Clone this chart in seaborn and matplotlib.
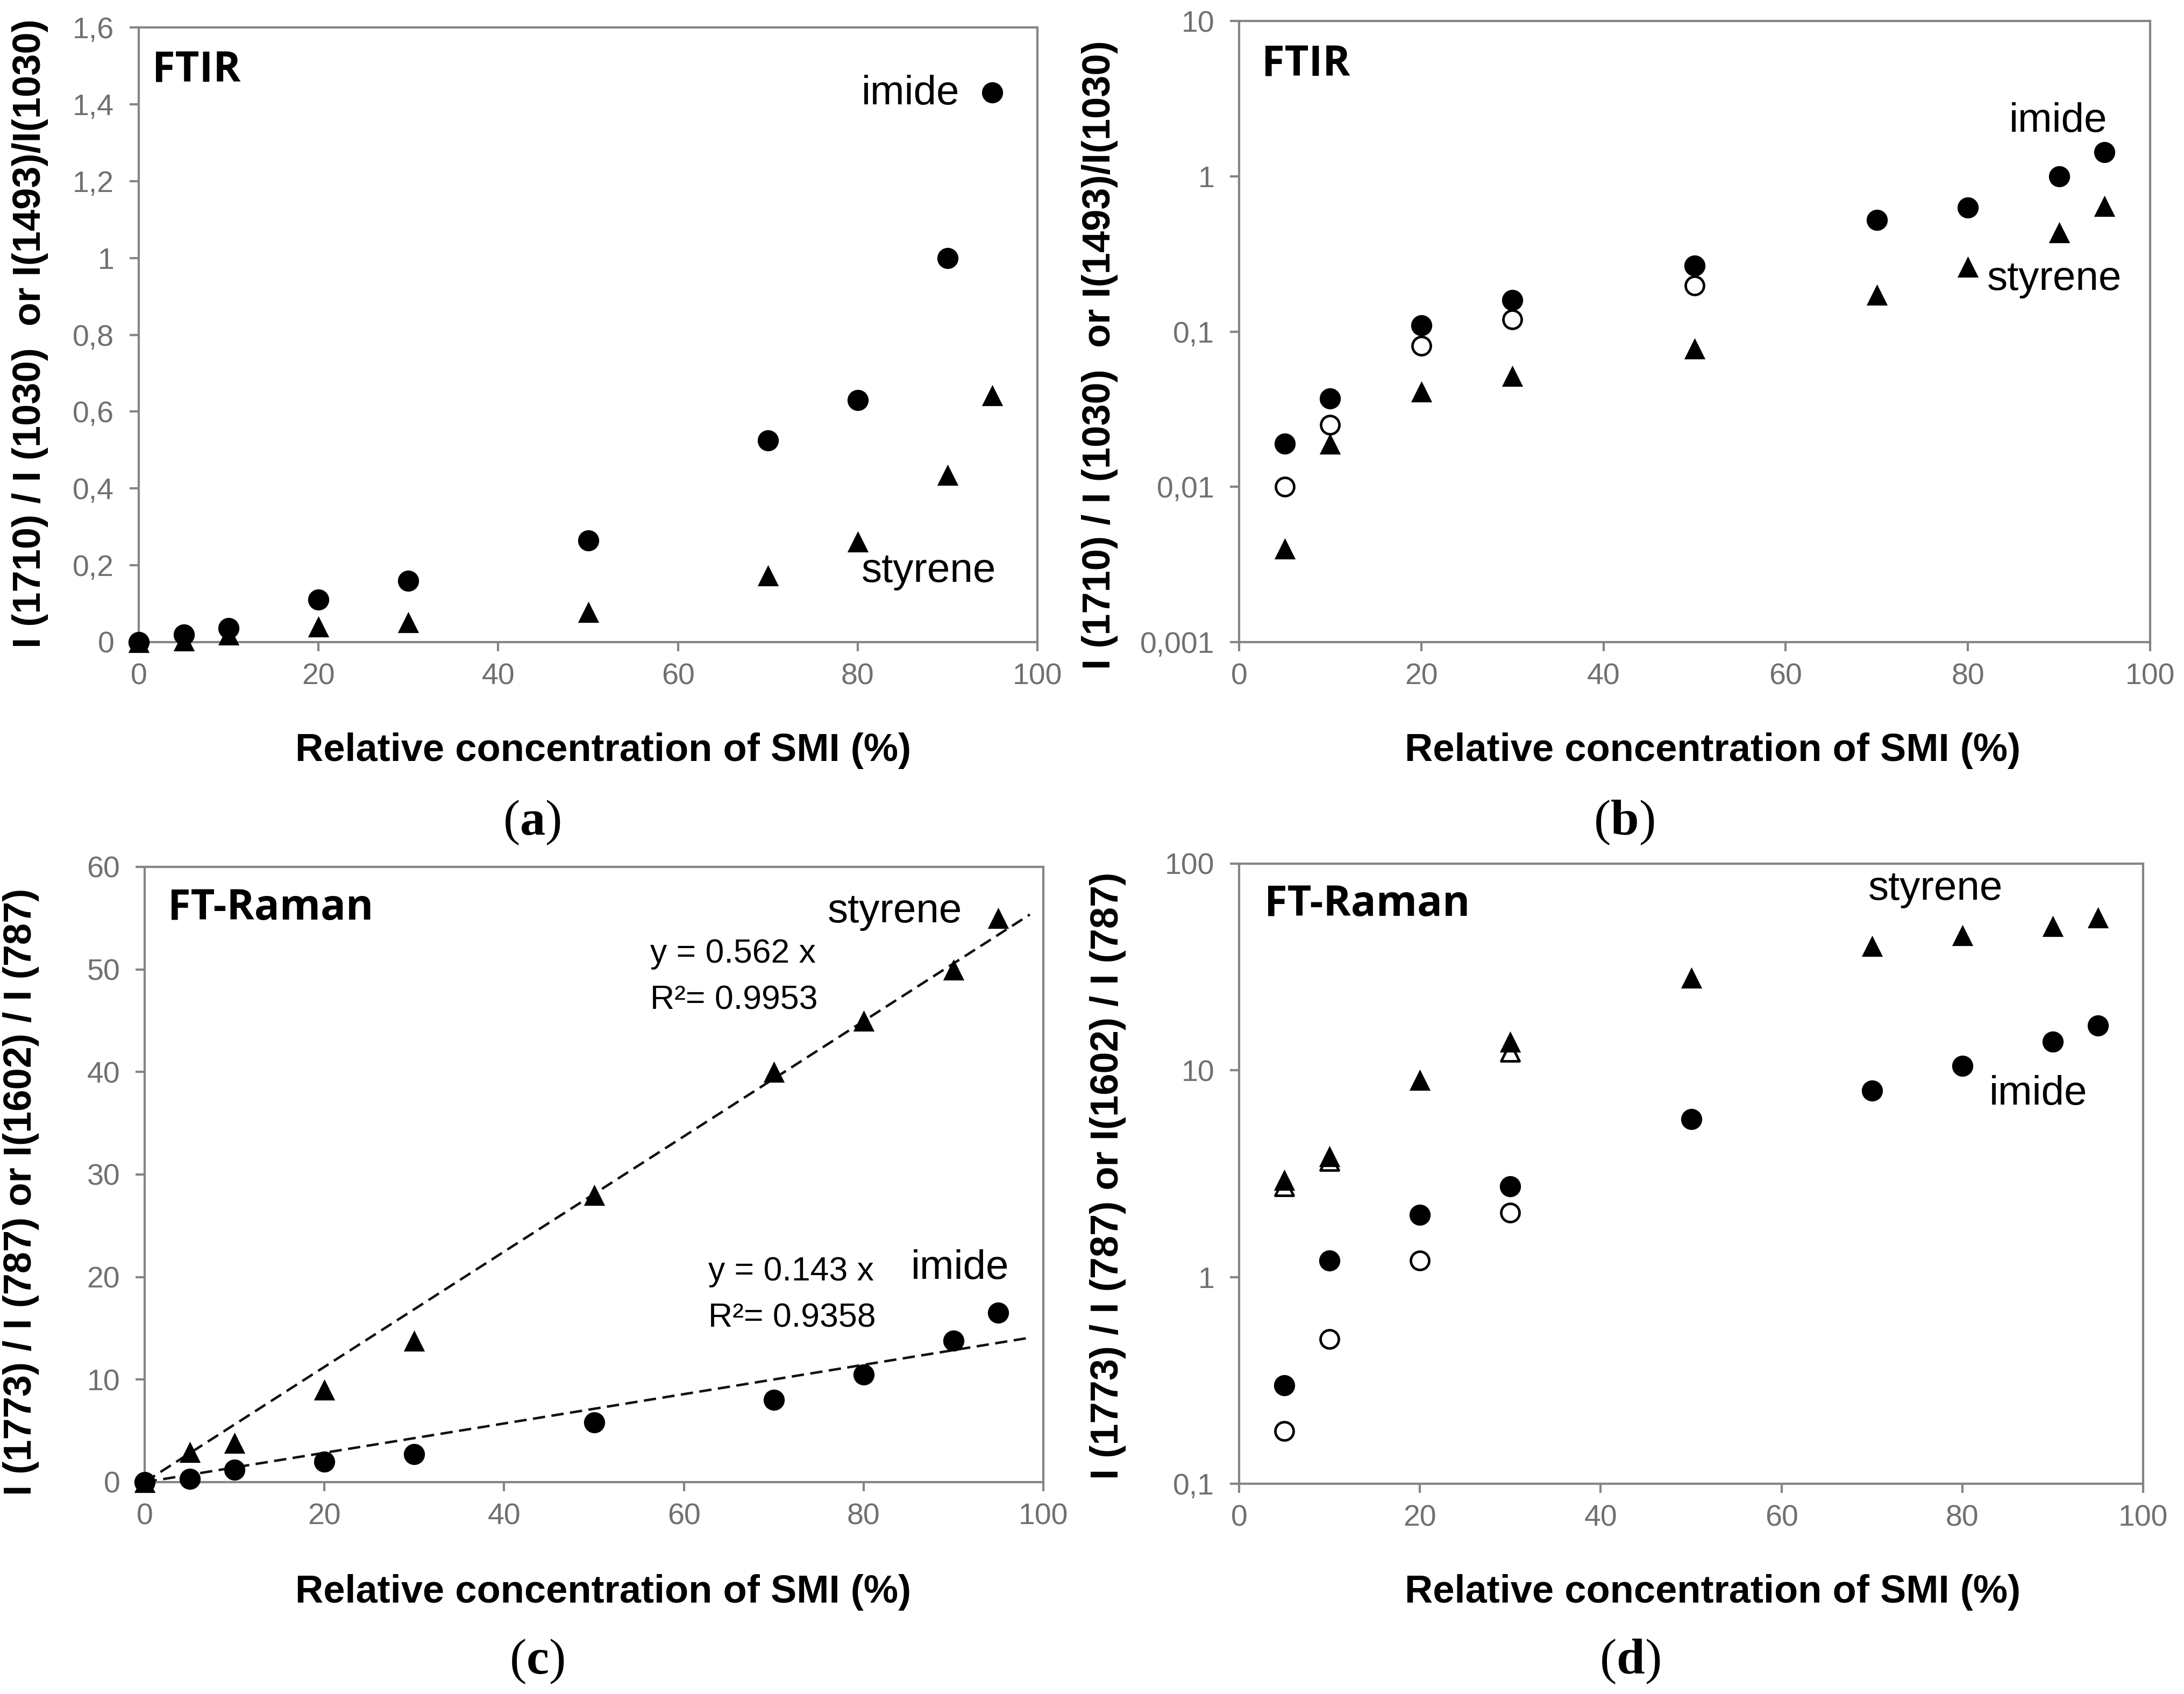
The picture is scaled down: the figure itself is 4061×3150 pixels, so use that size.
import matplotlib
matplotlib.use("Agg")
import matplotlib.pyplot as plt
import seaborn as sns
import numpy as np
import pandas as pd
from matplotlib.ticker import FixedLocator, FuncFormatter, NullLocator

# ---------------- data ----------------
conc = [0, 5, 10, 20, 30, 50, 70, 80, 90, 95]
ftir_imide = [0, 0.019, 0.037, 0.11, 0.16, 0.265, 0.525, 0.63, 1.0, 1.43]
ftir_styrene = [0, 0.004, 0.019, 0.041, 0.052, 0.078, 0.173, 0.262, 0.435, 0.642]
ftir_imide_open_conc = [5, 10, 20, 30, 50]
ftir_imide_open = [0.010, 0.025, 0.081, 0.12, 0.197]

raman_styrene = [0, 2.95, 3.85, 9.0, 13.8, 28, 40, 45, 50, 55]
raman_imide = [0, 0.3, 1.2, 2.0, 2.75, 5.8, 8.0, 10.5, 13.8, 16.5]
raman_styrene_open_conc = [5, 10, 30]
raman_styrene_open = [2.75, 3.65, 12.3]
raman_imide_open_conc = [5, 10, 20, 30]
raman_imide_open = [0.18, 0.5, 1.2, 2.05]

fit_slope_styrene = 0.562
fit_slope_imide = 0.143
fit_r2_styrene = "0.9953"
fit_r2_imide = "0.9358"
fit_x_range = [0, 98.5]

x_ticks = [0, 20, 40, 60, 80, 100]
ya_ticks = [0, 0.2, 0.4, 0.6, 0.8, 1.0, 1.2, 1.4, 1.6]
yb_ticks = [0.001, 0.01, 0.1, 1, 10]
yc_ticks = [0, 10, 20, 30, 40, 50, 60]
yd_ticks = [0.1, 1, 10, 100]

xlabel = "Relative concentration of SMI (%)"
ylabel_ftir = "I (1710) / I (1030)  or I(1493)/I(1030)"
ylabel_raman = "I (1773) / I (787) or I(1602) / I (787)"

# ---------------- style ----------------
sns.set_theme(style="white")
plt.rcParams["font.family"] = ["Liberation Sans", "DejaVu Sans"]
plt.rcParams["mathtext.fontset"] = "custom"
plt.rcParams["mathtext.rm"] = "Liberation Serif"
plt.rcParams["mathtext.bf"] = "Liberation Serif:bold"

W, H = 4062, 3150
fig = plt.figure(figsize=(W / 100, H / 100), dpi=100)
fig.patch.set_facecolor("white")


def px_axes(l, t, r, b):
    return fig.add_axes([l / W, 1 - b / H, (r - l) / W, (b - t) / H])


axA = px_axes(258, 51, 1929, 1194)
axB = px_axes(2304, 39, 3998, 1194)
axC = px_axes(269, 1612, 1940, 2756)
axD = px_axes(2304, 1606, 3985, 2759)

SPINE = "#858585"
TICKLAB = "#707070"


def comma_fmt(v, pos=None):
    s = f"{v:g}"
    return s.replace(".", ",")


def style(ax, yticks, ylim, log=False):
    for sp in ax.spines.values():
        sp.set_visible(True)
        sp.set_color(SPINE)
        sp.set_linewidth(3)
    if log:
        ax.set_yscale("log")
    ax.set_xlim(0, 100)
    ax.set_ylim(*ylim)
    ax.xaxis.set_major_locator(FixedLocator(x_ticks))
    ax.yaxis.set_major_locator(FixedLocator(yticks))
    ax.yaxis.set_minor_locator(NullLocator())
    ax.xaxis.set_minor_locator(NullLocator())
    ax.yaxis.set_major_formatter(FuncFormatter(comma_fmt))
    ax.xaxis.set_major_formatter(FuncFormatter(comma_fmt))
    ax.tick_params(axis="both", which="major", direction="out", length=12, width=3,
                   color=SPINE, labelcolor=TICKLAB, labelsize=40,
                   bottom=True, left=True, top=False, right=False)
    ax.tick_params(axis="y", pad=21)
    ax.tick_params(axis="x", pad=16)
    ax.set_xlabel("")
    ax.set_ylabel("")
    ax.grid(False)


def pts(ax, x, y, marker, filled=True):
    if filled:
        sns.scatterplot(x=x, y=y, ax=ax, marker=marker, s=800, color="black",
                        edgecolor="black", linewidth=0, clip_on=False, zorder=4,
                        legend=False)
    else:
        sns.scatterplot(x=x, y=y, ax=ax, marker=marker, s=600, color="white",
                        edgecolor="black", linewidth=3.4, clip_on=False, zorder=3,
                        legend=False)


# ---- (a) FTIR linear ----
pts(axA, conc, ftir_styrene, "^")
pts(axA, conc, ftir_imide, "o")
style(axA, ya_ticks, (0, 1.6))

# ---- (b) FTIR log ----
pts(axB, ftir_imide_open_conc, ftir_imide_open, "o", filled=False)
pts(axB, conc[1:], ftir_styrene[1:], "^")
pts(axB, conc[1:], ftir_imide[1:], "o")
style(axB, yb_ticks, (0.001, 10), log=True)

# ---- (c) FT-Raman linear with fits ----
for slope in (fit_slope_styrene, fit_slope_imide):
    fx = np.array(fit_x_range, dtype=float)
    sns.lineplot(x=fx, y=slope * fx, ax=axC, color="#111111", linewidth=3.3,
                 dashes=False, linestyle=(0, (5.0, 2.6)), zorder=2, legend=False)
pts(axC, conc, raman_styrene, "^")
pts(axC, conc, raman_imide, "o")
style(axC, yc_ticks, (0, 60))

# ---- (d) FT-Raman log ----
pts(axD, raman_styrene_open_conc, raman_styrene_open, "^", filled=False)
pts(axD, raman_imide_open_conc, raman_imide_open, "o", filled=False)
pts(axD, conc[1:], raman_styrene[1:], "^")
pts(axD, conc[1:], raman_imide[1:], "o")
style(axD, yd_ticks, (0.1, 100), log=True)

# ---------------- in-plot text ----------------
TAG = dict(family=["Open Sans", "DejaVu Sans"], fontweight="bold", fontsize=56,
           color="black", va="baseline", ha="left")
axA.text(0.015, 0.912, "FTIR", transform=axA.transAxes, **TAG)
axB.text(0.025, 0.912, "FTIR", transform=axB.transAxes, **TAG)
axC.text(0.026, 0.914, "FT-Raman", transform=axC.transAxes, **TAG)
axD.text(0.028, 0.916, "FT-Raman", transform=axD.transAxes, **TAG)

ANN = dict(fontsize=55, color="black", va="baseline", ha="left")
axA.text(80.4, 1.40, "imide", **ANN)
axA.text(80.4, 0.157, "styrene", **ANN)
axB.text(84.5, 1.94, "imide", **ANN)
axB.text(82.1, 0.186, "styrene", **ANN)
axC.text(76.0, 54.6, "styrene", **ANN)
axC.text(85.3, 19.8, "imide", **ANN)
axD.text(69.6, 67, "styrene", **ANN)
axD.text(83.0, 6.82, "imide", **ANN)

EQ = dict(fontsize=45, color="black", va="baseline", ha="left")
axC.text(56.25, 50.66, f"y = {fit_slope_styrene} x", **EQ)
axC.text(56.25, 46.15, f"R\u00b2= {fit_r2_styrene}", **EQ)
axC.text(62.7, 19.67, f"y = {fit_slope_imide} x", **EQ)
axC.text(62.7, 15.15, f"R\u00b2= {fit_r2_imide}", **EQ)

# ---------------- axis titles ----------------
XL = dict(fontsize=52, fontweight="bold", color="black", ha="center", va="baseline")
fig.text(1122 / W, 1 - 1415 / H, xlabel, **XL)
fig.text(3185 / W, 1 - 1415 / H, xlabel, **XL)
fig.text(1122 / W, 1 - 2980 / H, xlabel, **XL)
fig.text(3185 / W, 1 - 2980 / H, xlabel, **XL)

YL = dict(fontsize=52, fontweight="bold", color="black", ha="center", va="center",
          rotation=90)
fig.text(56 / W, 1 - 620 / H, ylabel_ftir, **YL)
fig.text(2045 / W, 1 - 660 / H, ylabel_ftir, **YL)
fig.text(39 / W, 1 - 2216 / H, ylabel_raman, **YL)
fig.text(2060 / W, 1 - 2186 / H, ylabel_raman, **YL)

# ---------------- panel letters ----------------
PL = dict(family="Liberation Serif", fontsize=68, color="black", ha="center",
          va="baseline")
for letter, (px, py) in zip("abcd", [(989, 1552), (3020, 1552), (998, 3112), (3031, 3112)]):
    fig.text(px / W, 1 - py / H, "(" + r"$\mathbf{" + letter + r"}$" + ")", **PL)

fig.savefig("out.png", dpi=100, facecolor="white")
